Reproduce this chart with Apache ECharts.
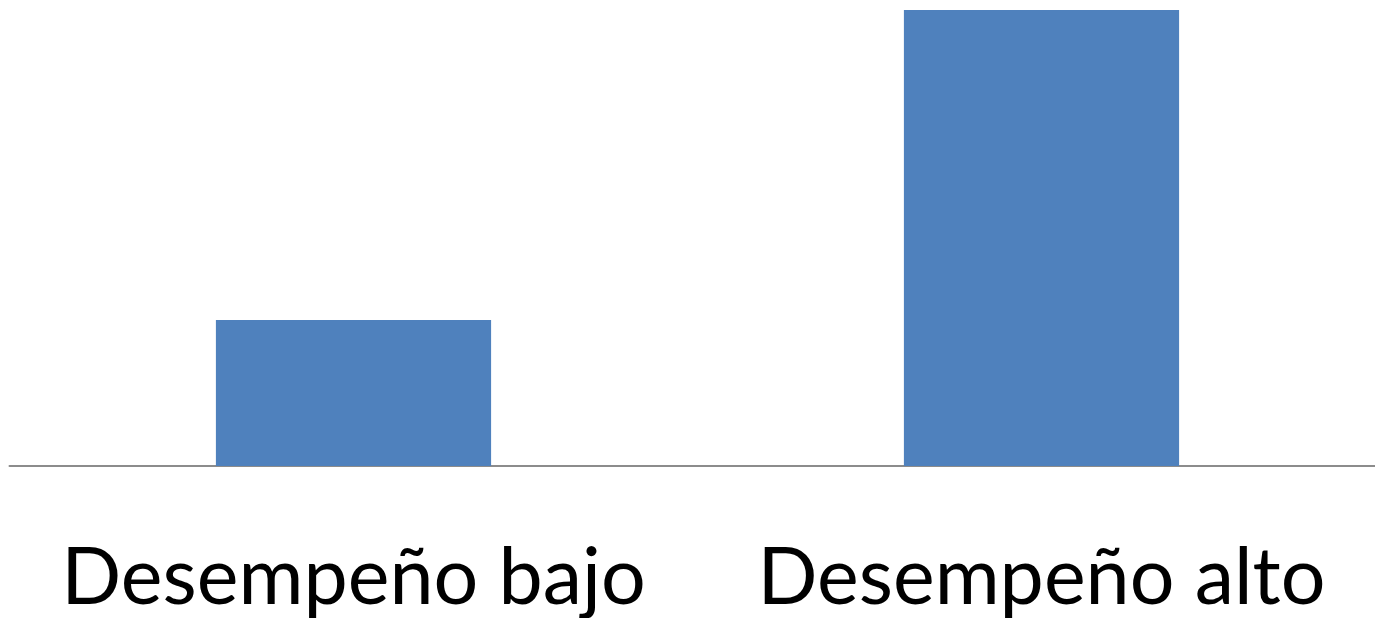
<!DOCTYPE html>
<html><head><meta charset="utf-8">
<script src="https://cdn.jsdelivr.net/npm/echarts@6/dist/echarts.min.js"></script>
<style>html,body{margin:0;padding:0;background:#fff;overflow:hidden}#c{width:1386px;height:618px}</style>
</head><body><div id="c"></div>
<script>
const categories = ["Desempeño bajo", "Desempeño alto"];
const values = [32, 100];
const chart = echarts.init(document.getElementById('c'));
chart.setOption({
  animation: false,
  grid: {left: 9.5, right: 0.5, top: 10, bottom: 152, containLabel: false},
  xAxis: {
    type: 'category', data: categories,
    axisLine: {lineStyle: {color: '#8c8c8c', width: 2}},
    axisTick: {show: false},
    axisLabel: {interval: 0, hideOverlap: false, fontFamily: 'Lato', fontSize: 79, color: '#000', margin: 73, lineHeight: 79}
  },
  yAxis: {type: 'value', min: 0, max: 100, show: false, splitLine: {show: false}},
  series: [{type: 'bar', data: values, barWidth: '40%', itemStyle: {color: '#4f81bd'}}]
});
</script></body></html>
